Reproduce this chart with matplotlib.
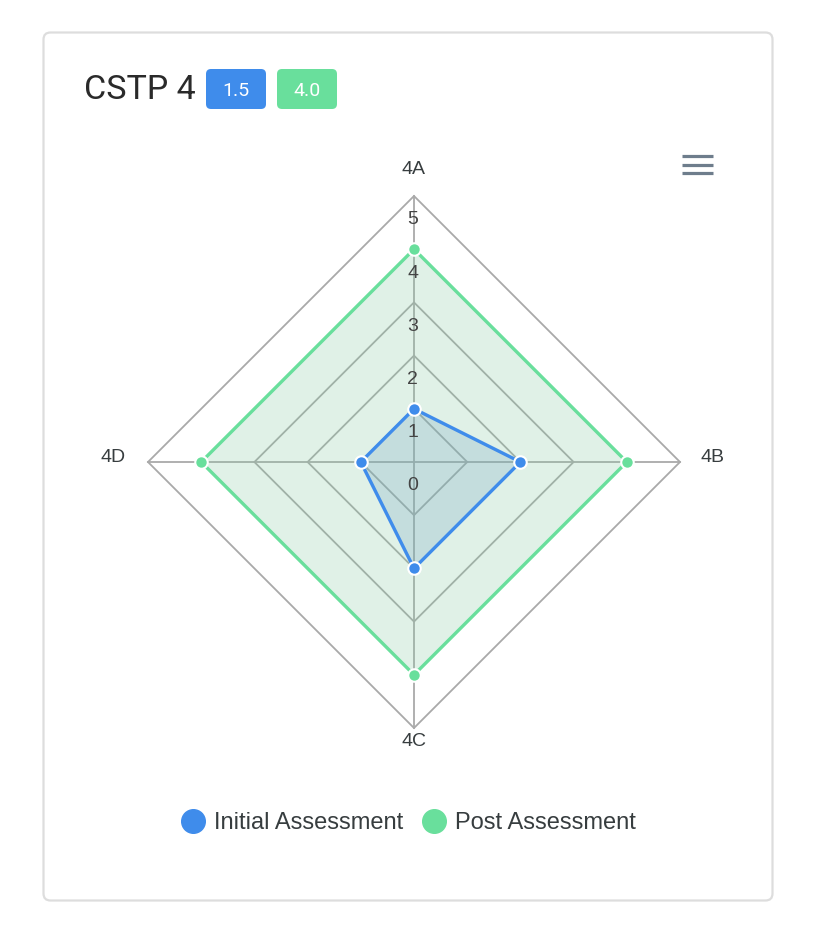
import numpy as np
import matplotlib.pyplot as plt
from matplotlib.patches import FancyBboxPatch, Polygon
from matplotlib.lines import Line2D

# data
categories = ["4A", "4B", "4C", "4D"]
initial = [1, 2, 2, 1]
post = [4, 4, 4, 4]
series_names = ["Initial Assessment", "Post Assessment"]
levels = [0, 1, 2, 3, 4, 5]
title = "CSTP 4"

blue = "#3F8CEB"
green = "#69DF9C"
text_col = "#373D3F"
grid_col = "#A9A9A9"

W, H = 832, 940
fig = plt.figure(figsize=(W / 100, H / 100), dpi=100)

# pixel-space layer for the card, header and menu icon
ax0 = fig.add_axes([0, 0, 1, 1])
ax0.set_xlim(0, W)
ax0.set_ylim(H, 0)
ax0.axis("off")

ax0.add_patch(FancyBboxPatch((43.5, 32.5), 729, 868, boxstyle="round,pad=0,rounding_size=7",
                             fc="white", ec="#DDDDDD", lw=1.6))
ax0.text(84, 99, title, fontsize=24.5, family="Roboto", color="#2A2A2A",
         va="baseline", ha="left")

badges = [f"{np.mean(initial):.1f}", f"{np.mean(post):.1f}"]
for x0, txt, c in zip([206, 277], badges, [blue, green]):
    ax0.add_patch(FancyBboxPatch((x0, 69), 60, 40, boxstyle="round,pad=0,rounding_size=5", fc=c, ec="none"))
    ax0.text(x0 + 30, 96, txt, fontsize=14, family="Roboto", color="white", ha="center", va="baseline")

for yy in [156, 164.5, 173]:
    ax0.plot([682, 713], [yy, yy], color="#6E7D8C", lw=2.3, solid_capstyle="butt")

# radar axes, 1 unit = 53.2 px, centre at (414, 462)
unit = 53.2
lim = 6.2
size = 2 * lim * unit
cx, cy = 414, 462
ax = fig.add_axes([(cx - size / 2) / W, (H - cy - size / 2) / H, size / W, size / H])
ax.set_xlim(-lim, lim)
ax.set_ylim(-lim, lim)
ax.axis("off")

n = len(categories)
ang = np.pi / 2 - np.arange(n) * 2 * np.pi / n
cosa, sina = np.cos(ang), np.sin(ang)
rmax = levels[-1]

for k in levels[1:]:
    ax.add_patch(Polygon(np.c_[k * cosa, k * sina], closed=True, fill=False, ec=grid_col, lw=1.3, zorder=1))
for c, s in zip(cosa, sina):
    ax.plot([0, rmax * c], [0, rmax * s], color=grid_col, lw=1.3, zorder=1)

fills = ["#87CBA3", "#71A2C0"]
for vals, col, fc in [(post, green, fills[0]), (initial, blue, fills[1])]:
    v = np.array(vals, dtype=float)
    xs, ys = v * cosa, v * sina
    ax.add_patch(Polygon(np.c_[xs, ys], closed=True, fc=fc, alpha=0.25, ec="none", zorder=2))
    ax.plot(np.r_[xs, xs[0]], np.r_[ys, ys[0]], color=col, lw=2.4, zorder=3)
    ax.plot(xs, ys, "o", color=col, ms=9, mec="white", mew=1.5, zorder=4)

for k in levels:
    ax.text(-0.02, k - 0.45, str(k), fontsize=14, family="Liberation Sans", color="#444444",
            ha="center", va="center", zorder=5)

label_pos = [(0, 5.49), (5.62, 0.09), (0, -5.26), (-5.66, 0.09)]
for lab, (lx, ly) in zip(categories, label_pos):
    ax.text(lx, ly, lab, fontsize=14, family="Liberation Sans", color=text_col, ha="center", va="center")

handles = [Line2D([], [], ls="none", marker="o", ms=17, color=c, mec=c) for c in [blue, green]]
leg = fig.legend(handles, series_names, loc="center", bbox_to_anchor=(409 / W, 1 - 823 / H), ncol=2,
                 frameon=False, handlelength=0.9, handletextpad=0.45, columnspacing=0.85,
                 prop={"family": "Liberation Sans", "size": 17})
for t in leg.get_texts():
    t.set_color(text_col)

fig.savefig("out.png", dpi=100, facecolor="white")
